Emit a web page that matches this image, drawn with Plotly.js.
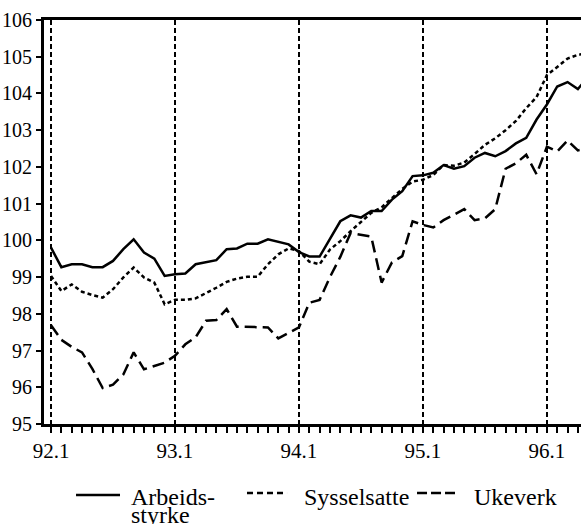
<!DOCTYPE html>
<html><head><meta charset="utf-8">
<script src="https://cdn.plot.ly/plotly-3.0.1.min.js"></script>
<style>
html,body{margin:0;padding:0;background:#fff;overflow:hidden;}
#wrap{position:relative;width:581px;height:524px;overflow:hidden;background:#fff;}
#chart{position:absolute;left:0;top:-30px;width:620px;height:600px;}
</style></head><body>
<div id="wrap"><div id="chart"></div></div>
<script>
// Monthly periods (year.month)
const periods = ["92.1","92.2","92.3","92.4","92.5","92.6","92.7","92.8","92.9","92.10","92.11","92.12",
  "93.1","93.2","93.3","93.4","93.5","93.6","93.7","93.8","93.9","93.10","93.11","93.12",
  "94.1","94.2","94.3","94.4","94.5","94.6","94.7","94.8","94.9","94.10","94.11","94.12",
  "95.1","95.2","95.3","95.4","95.5","95.6","95.7","95.8","95.9","95.10","95.11","95.12",
  "96.1","96.2","96.3","96.4","96.5"];

const arbeidsstyrke = [99.8, 99.27, 99.35, 99.35, 99.27, 99.27, 99.44, 99.76, 100.03, 99.67, 99.5, 99.03,
  99.08, 99.1, 99.35, 99.41, 99.46, 99.76, 99.78, 99.91, 99.91, 100.03, 99.95, 99.89,
  99.68, 99.56, 99.56, 100.03, 100.52, 100.68, 100.62, 100.8, 100.8, 101.11, 101.34, 101.75,
  101.77, 101.84, 102.05, 101.95, 102.02, 102.25, 102.38, 102.29, 102.43, 102.64, 102.79, 103.29,
  103.7, 104.19, 104.31, 104.12, 104.45];

const sysselsatte = [99.03, 98.62, 98.8, 98.6, 98.51, 98.44, 98.67, 98.99, 99.26, 98.99, 98.85, 98.26,
  98.38, 98.38, 98.42, 98.56, 98.71, 98.87, 98.96, 99.01, 99.01, 99.35, 99.62, 99.78,
  99.71, 99.42, 99.35, 99.75, 99.98, 100.25, 100.5, 100.75, 100.9, 101.15, 101.4, 101.6,
  101.65, 101.78, 102.05, 102.03, 102.12, 102.35, 102.6, 102.78, 103.0, 103.25, 103.6, 103.9,
  104.5, 104.72, 104.95, 105.05, 105.1];

const ukeverk = [97.69, 97.29, 97.1, 96.95, 96.5, 95.98, 96.07, 96.35, 96.95, 96.49, 96.58, 96.67,
  96.86, 97.17, 97.36, 97.81, 97.83, 98.13, 97.65, 97.65, 97.65, 97.63, 97.33, 97.47,
  97.63, 98.3, 98.38, 99.0, 99.55, 100.2, 100.15, 100.1, 98.85, 99.4, 99.57, 100.52,
  100.42, 100.35, 100.55, 100.7, 100.85, 100.55, 100.6, 100.85, 101.95, 102.1, 102.33, 101.8,
  102.55, 102.42, 102.72, 102.45, 102.5];

const tickLabels = ["92.1","93.1","94.1","95.1","96.1"];
const seriesNames = ["Arbeidsstyrke", "Sysselsatte", "Ukeverk"];
const legendLines = [["Arbeids-", "styrke"], ["Sysselsatte"], ["Ukeverk"]];
const titleText = "Samlet mengde. Utvikling og nivå";

const xIndex = periods.map((p, i) => i);
const tickVals = tickLabels.map(l => periods.indexOf(l));

const FONT = "Liberation Serif";
const dashes = ["solid", "4px,3px", "12px,6px"];
const legendDashes = ["solid", "6px,4px", "10px,4px"];

const traces = [arbeidsstyrke, sysselsatte, ukeverk].map((vals, i) => ({
  x: xIndex, y: vals, name: seriesNames[i], mode: "lines",
  line: {color: "#000", width: 2.5, dash: dashes[i]}
}));

// manual legend (layout positions in paper units)
const legSample = [[0.0576, 0.1367, -0.1757], [0.3651, 0.4371, -0.1708], [0.6709, 0.7392, -0.1708]];
const legTextX = [0.1547, 0.4658, 0.7716];
const shapes = legSample.map((s, i) => ({
  type: "line", xref: "paper", yref: "paper", x0: s[0], x1: s[1], y0: s[2], y1: s[2],
  line: {color: "#000", width: 2.5, dash: legendDashes[i]}
}));
const annotations = [];
legendLines.forEach((lines, i) => {
  lines.forEach((t, j) => {
    annotations.push({text: t, xref: "paper", yref: "paper", x: legTextX[i], xanchor: "left",
      y: -0.1807 - j * 0.0445, yanchor: "middle", showarrow: false, borderpad: 0,
      font: {family: FONT, size: 24, color: "#000"}});
  });
});
annotations.push({text: titleText, xref: "paper", yref: "paper", x: 0.151, xanchor: "left",
  y: 1.0446, yanchor: "bottom", showarrow: false, font: {family: FONT, size: 18, color: "#000"}});

const layout = {
  width: 620, height: 600,
  margin: {l: 44, r: 20, t: 50, b: 146},
  paper_bgcolor: "#fff", plot_bgcolor: "#fff",
  font: {family: FONT, color: "#000", size: 18},
  showlegend: false,
  xaxis: {range: [-0.68, 53.14], tickmode: "array", tickvals: tickVals, ticktext: tickLabels,
    ticks: "outside", ticklen: 6, tickwidth: 2, tickcolor: "#000",
    showline: true, linecolor: "#000", linewidth: 3, mirror: true,
    showgrid: true, gridcolor: "#000", gridwidth: 2.5, griddash: "5px,3px",
    zeroline: false, tickfont: {family: FONT, size: 21, color: "#000"},
    minor: {dtick: 1, tick0: 0, ticks: "outside", ticklen: 6, tickwidth: 2, tickcolor: "#000", showgrid: false}},
  yaxis: {range: [95, 106], dtick: 1, tick0: 95,
    ticks: "outside", ticklen: 5, tickwidth: 2, tickcolor: "#000",
    showline: true, linecolor: "#000", linewidth: 3, mirror: true,
    showgrid: false, zeroline: false, tickfont: {family: FONT, size: 20, color: "#000"}},
  shapes: shapes,
  annotations: annotations
};

Plotly.newPlot("chart", traces, layout, {displayModeBar: false, staticPlot: true});
</script>
</body></html>
